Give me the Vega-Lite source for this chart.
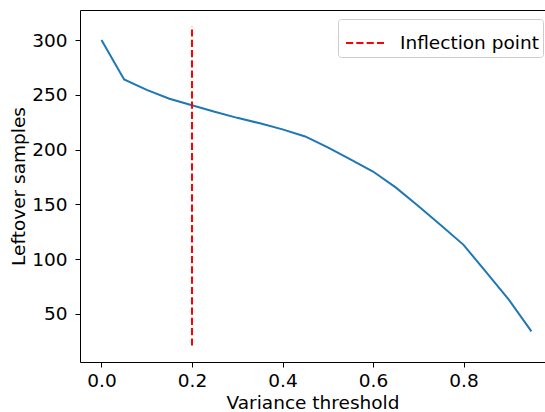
{
  "$schema": "https://vega.github.io/schema/vega-lite/v6.json",
  "autosize": {"type": "none"},
  "padding": {"left": 80, "top": 10, "right": 0, "bottom": 50},
  "width": 465,
  "height": 352,
  "background": "white",
  "datasets": {
    "curve": [
      {"threshold": 0.0, "samples": 300},
      {"threshold": 0.05, "samples": 264},
      {"threshold": 0.1, "samples": 254.5},
      {"threshold": 0.15, "samples": 246.5},
      {"threshold": 0.2, "samples": 240.5},
      {"threshold": 0.25, "samples": 234.5},
      {"threshold": 0.3, "samples": 229},
      {"threshold": 0.35, "samples": 224},
      {"threshold": 0.4, "samples": 218.5},
      {"threshold": 0.45, "samples": 212},
      {"threshold": 0.5, "samples": 202},
      {"threshold": 0.55, "samples": 191},
      {"threshold": 0.6, "samples": 180},
      {"threshold": 0.65, "samples": 165.5},
      {"threshold": 0.7, "samples": 148.5},
      {"threshold": 0.75, "samples": 131},
      {"threshold": 0.8, "samples": 113},
      {"threshold": 0.85, "samples": 88},
      {"threshold": 0.9, "samples": 63},
      {"threshold": 0.95, "samples": 34}
    ],
    "inflection": [
      {"threshold": 0.2, "ymin": 21, "ymax": 313, "label": "Inflection point"}
    ]
  },
  "config": {
    "font": "DejaVu Sans",
    "view": {"stroke": "black", "strokeWidth": 1},
    "axis": {
      "grid": false,
      "domain": false,
      "labelFont": "DejaVu Sans",
      "labelFontSize": 18.5,
      "labelColor": "black",
      "titleFont": "DejaVu Sans",
      "titleFontSize": 18.5,
      "titleFontWeight": "normal",
      "titleColor": "black",
      "tickColor": "black",
      "tickSize": 5,
      "tickWidth": 1
    },
    "legend": {
      "labelFont": "DejaVu Sans",
      "labelFontSize": 18.5,
      "labelColor": "black"
    }
  },
  "layer": [
    {
      "data": {"name": "curve"},
      "mark": {"type": "line", "color": "#1f77b4", "strokeWidth": 2},
      "encoding": {
        "x": {
          "field": "threshold",
          "type": "quantitative",
          "scale": {"domain": [-0.0475, 0.98], "nice": false, "zero": false},
          "axis": {"title": "Variance threshold", "values": [0, 0.2, 0.4, 0.6, 0.8], "format": ".1f", "labelPadding": 4, "titlePadding": 4, "labelFlush": false}
        },
        "y": {
          "field": "samples",
          "type": "quantitative",
          "scale": {"domain": [6, 327.5], "nice": false, "zero": false},
          "axis": {"title": "Leftover samples", "values": [50, 100, 150, 200, 250, 300], "labelPadding": 8, "titlePadding": 3, "labelFlush": false}
        }
      }
    },
    {
      "data": {"name": "inflection"},
      "mark": {"type": "rule", "strokeWidth": 2, "strokeDash": [7.2, 3.1]},
      "encoding": {
        "x": {"field": "threshold", "type": "quantitative"},
        "y": {"field": "ymin", "type": "quantitative"},
        "y2": {"field": "ymax"},
        "color": {
          "field": "label",
          "type": "nominal",
          "scale": {"domain": ["Inflection point"], "range": ["red"]},
          "legend": {
            "title": null,
            "orient": "none",
            "legendX": 258,
            "legendY": 9,
            "symbolType": "stroke",
            "symbolSize": 1444,
            "symbolStrokeWidth": 2,
            "symbolDash": [7.2, 3.1],
            "symbolOffset": 3,
            "labelOffset": 15,
            "padding": 4,
            "fillColor": "rgba(255,255,255,0.8)",
            "strokeColor": "#cccccc",
            "cornerRadius": 3
          }
        }
      }
    }
  ]
}
